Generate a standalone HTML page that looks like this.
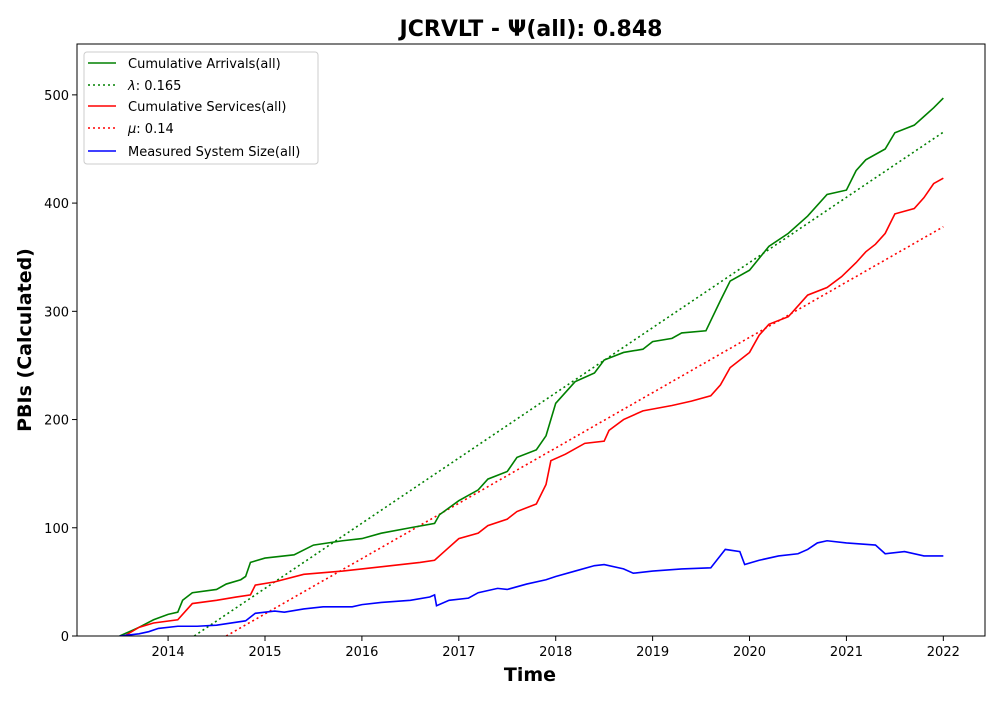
<!DOCTYPE html>
<html><head><meta charset="utf-8"><style>
body{margin:0;background:#fff;}
svg text{font-family:"DejaVu Sans","Liberation Sans",sans-serif;}
</style></head><body>
<svg id="chart" width="1000" height="700" xmlns="http://www.w3.org/2000/svg">
<rect width="1000" height="700" fill="#fff"/>
<text x="531" y="36" font-size="22" font-weight="bold" text-anchor="middle">JCRVLT -  Ψ(all): 0.848</text>
<g id="plot"></g>
<rect x="77" y="44" width="908" height="592" fill="none" stroke="#000" stroke-width="1"/>
<text x="530" y="681" font-size="19" font-weight="bold" text-anchor="middle">Time</text>
<text x="31" y="340" font-size="19" font-weight="bold" text-anchor="middle" transform="rotate(-90 31 340)">PBIs (Calculated)</text>
<g>
<rect x="84" y="52" width="234" height="112" rx="3" fill="#fff" fill-opacity="0.8" stroke="#ccc"/>
<line x1="88" y1="63" x2="116" y2="63" stroke="green" stroke-width="1.6"/>
<text x="128" y="68" font-size="13">Cumulative Arrivals(all)</text>
<line x1="88" y1="85" x2="116" y2="85" stroke="green" stroke-width="1.6" stroke-dasharray="2,3"/>
<text x="128" y="90" font-size="13"><tspan font-style="italic">λ</tspan>: 0.165</text>
<line x1="88" y1="106" x2="116" y2="106" stroke="red" stroke-width="1.6"/>
<text x="128" y="111" font-size="13">Cumulative Services(all)</text>
<line x1="88" y1="128" x2="116" y2="128" stroke="red" stroke-width="1.6" stroke-dasharray="2,3"/>
<text x="128" y="133" font-size="13"><tspan font-style="italic">μ</tspan>: 0.14</text>
<line x1="88" y1="151" x2="116" y2="151" stroke="blue" stroke-width="1.6"/>
<text x="128" y="156" font-size="13">Measured System Size(all)</text>
</g>
</svg>
<script>
const xTicks=[2014,2015,2016,2017,2018,2019,2020,2021,2022];
const yTicks=[0,100,200,300,400,500];
const arrT=[2013.5,2013.7,2013.85,2014.0,2014.1,2014.15,2014.25,2014.5,2014.6,2014.75,2014.8,2014.85,2015.0,2015.3,2015.5,2015.8,2016.0,2016.2,2016.5,2016.75,2016.8,2017.0,2017.2,2017.3,2017.5,2017.6,2017.8,2017.9,2018.0,2018.2,2018.4,2018.5,2018.7,2018.9,2019.0,2019.2,2019.3,2019.55,2019.7,2019.8,2020.0,2020.2,2020.4,2020.6,2020.8,2021.0,2021.1,2021.2,2021.4,2021.5,2021.7,2021.8,2021.9,2022.0];
const arrV=[0,8,15,20,22,33,40,43,48,52,55,68,72,75,84,88,90,95,100,104,112,125,135,145,152,165,172,185,215,235,243,255,262,265,272,275,280,282,310,328,338,360,372,388,408,412,430,440,450,465,472,480,488,497];
const srvT=[2013.55,2013.7,2013.85,2014.1,2014.25,2014.5,2014.7,2014.85,2014.9,2015.1,2015.4,2015.8,2016.0,2016.3,2016.6,2016.75,2016.85,2017.0,2017.2,2017.3,2017.5,2017.6,2017.8,2017.9,2017.95,2018.1,2018.3,2018.5,2018.55,2018.7,2018.9,2019.2,2019.4,2019.6,2019.7,2019.8,2020.0,2020.1,2020.2,2020.4,2020.5,2020.6,2020.8,2020.95,2021.1,2021.2,2021.3,2021.4,2021.5,2021.7,2021.8,2021.9,2022.0];
const srvV=[0,8,12,15,30,33,36,38,47,50,57,60,62,65,68,70,78,90,95,102,108,115,122,140,162,168,178,180,190,200,208,213,217,222,232,248,262,278,288,295,305,315,322,332,345,355,362,372,390,395,405,418,423];
const sysT=[2013.5,2013.7,2013.8,2013.9,2014.1,2014.3,2014.5,2014.8,2014.9,2015.1,2015.2,2015.4,2015.6,2015.9,2016.0,2016.2,2016.5,2016.7,2016.75,2016.77,2016.9,2017.1,2017.2,2017.4,2017.5,2017.7,2017.9,2018.0,2018.2,2018.4,2018.5,2018.7,2018.8,2019.0,2019.3,2019.6,2019.75,2019.9,2019.95,2020.1,2020.3,2020.5,2020.6,2020.7,2020.8,2021.0,2021.3,2021.4,2021.6,2021.8,2022.0];
const sysV=[0,2,4,7,9,9,10,14,21,23,22,25,27,27,29,31,33,36,38,28,33,35,40,44,43,48,52,55,60,65,66,62,58,60,62,63,80,78,66,70,74,76,80,86,88,86,84,76,78,74,74];
const lambdaRate=[0.165];
const lambdaStart=[2014.27];
const muRate=[0.14];
const muStart=[2014.6];
const fitEnd=[2022.0];

const X0=77,X1=985,Y0=636,Y1=44,XMIN=2013.06,XMAX=2022.43,YMIN=0,YMAX=547;
const sx=t=>X0+(t-XMIN)/(XMAX-XMIN)*(X1-X0);
const sy=v=>Y0-(v-YMIN)/(YMAX-YMIN)*(Y0-Y1);
const NS="http://www.w3.org/2000/svg";
const g=document.getElementById('plot');
function mk(tag,attrs){const e=document.createElementNS(NS,tag);for(const k in attrs)e.setAttribute(k,attrs[k]);g.appendChild(e);return e;}
xTicks.forEach(t=>{
  const l=mk('line',{x1:sx(t),x2:sx(t),y1:Y0,y2:Y0+5,stroke:'#000'});
  
  
  const tx=mk('text',{x:sx(t),y:Y0+20,'font-size':13,'text-anchor':'middle'});tx.textContent=t;
  
  
});
yTicks.forEach(v=>{
  const l=mk('line',{x1:X0-5,x2:X0,y1:sy(v),y2:sy(v),stroke:'#000'});
  
  
  const tx=mk('text',{x:X0-8,y:sy(v)+5,'font-size':13,'text-anchor':'end'});tx.textContent=v;
  
  
});
mk('clipPath',{id:'clip'}).appendChild(document.createElementNS(NS,'rect'));
const cr=document.querySelector('#clip rect');cr.setAttribute('x',X0);cr.setAttribute('y',Y1);cr.setAttribute('width',X1-X0);cr.setAttribute('height',Y0-Y1);
function series(T,V,color,name){
  const p=mk('polyline',{points:T.map((t,i)=>sx(t)+','+sy(V[i])).join(' '),fill:'none',stroke:color,'stroke-width':1.6,'clip-path':'url(#clip)'});
  
  
}
function fit(rate,start,color,name){
  const t1=fitEnd[0];
  const p=mk('line',{x1:sx(start),y1:sy(0),x2:sx(t1),y2:sy(rate*365*(t1-start)),stroke:color,'stroke-width':1.6,'stroke-dasharray':'2,3','clip-path':'url(#clip)'});
  
  
}
fit(lambdaRate[0],lambdaStart[0],'green','lambda-fit-line');
fit(muRate[0],muStart[0],'red','mu-fit-line');
series(arrT,arrV,'green','arrivals-line');
series(srvT,srvV,'red','services-line');
series(sysT,sysV,'blue','system-size-line');
</script>
</body></html>
